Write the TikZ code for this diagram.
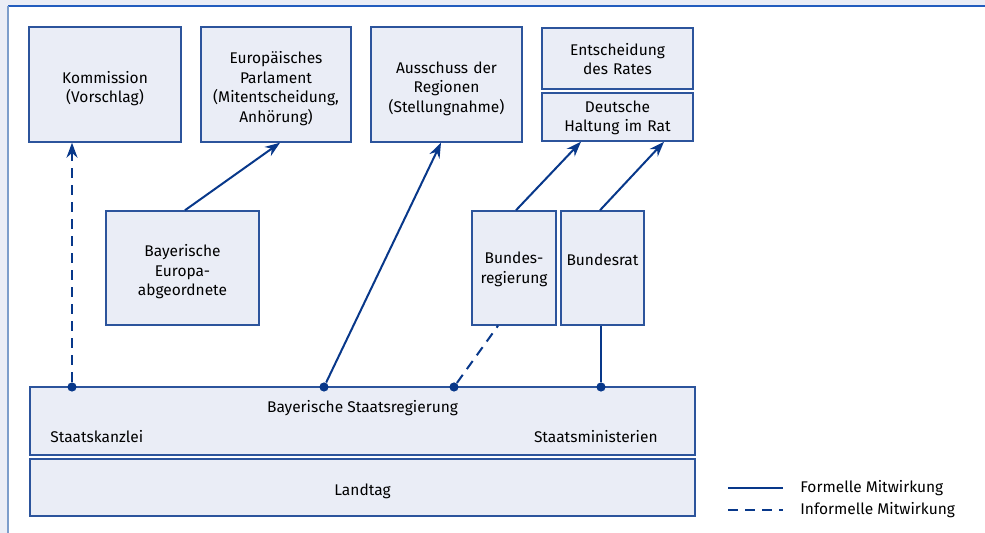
\documentclass[tikz,border=0pt]{standalone}
\usepackage{fontspec}
\setmainfont{Fira Sans}
\usetikzlibrary{arrows.meta}
\definecolor{mwnavy}{RGB}{8,56,138}
\definecolor{mwedge}{RGB}{44,84,156}
\definecolor{mwfill}{RGB}{234,237,246}
\definecolor{mwframe}{RGB}{34,92,190}
\definecolor{mwside}{RGB}{124,157,203}
\begin{document}
\begin{tikzpicture}[x=0.5pt, y=-0.5pt,
	box/.style={draw=mwedge, fill=mwfill, line width=0.75pt, inner sep=0pt, align=center, font=\fontsize{7.75}{9.8}\selectfont},
	textdrop/.style={execute at begin node={\noindent\rule{0pt}{#1}}},
	formal/.style={draw=mwnavy, line width=1pt},
	informal/.style={draw=mwnavy, line width=1pt, dash pattern=on 5pt off 3.5pt},
	tip/.style={-{Stealth[length=7.5pt, width=5.5pt]}},
	dot/.style={circle, fill=mwnavy, inner sep=0pt, minimum size=4.6pt},
	txt/.style={inner sep=0pt, font=\fontsize{7.75}{9.8}\selectfont}]
	\useasboundingbox (0,0) rectangle (985,533);
	% frame
	\fill[mwfill] (0,0) rectangle (985,533);
	\fill[white] (8,6) rectangle (985,533);
	\draw[mwframe, line width=1pt] (8,6) -- (985,6);
	\draw[mwside, line width=1pt] (8,6) -- (8,533);
	% top row
	\node (komm) at (105,84.5) [box, textdrop=10pt, text width=76pt, minimum height=57.5pt] {Kommission\\(Vorschlag)};
	\node (ep) at (276,84.5) [box, textdrop=10pt, text width=75pt, minimum height=57.5pt] {Europäisches\\Parlament\\(Mitentscheidung,\\Anhörung)};
	\node (adr) at (446.5,84.5) [box, textdrop=10pt, text width=75.5pt, minimum height=57.5pt] {Ausschuss der\\Regionen\\(Stellungnahme)};
	\node (rat) at (617.5,58.5) [box, textdrop=6.5pt, text width=75.5pt, minimum height=30.5pt] {Entscheidung\\des Rates};
	\node (dh) at (617.5,117) [box, textdrop=6.5pt, text width=75.5pt, minimum height=24pt] {Deutsche\\Haltung im Rat};
	% middle row
	\node (eab) at (182.5,268) [box, textdrop=10pt, text width=76.5pt, minimum height=57pt] {Bayerische\\Europa-\\abgeordnete};
	\node (breg) at (514,268) [box, textdrop=7pt, text width=42pt, minimum height=57pt] {Bundes-\\regierung};
	\node (brat) at (602.5,268) [box, textdrop=7pt, text width=41.5pt, minimum height=57pt] {Bundesrat\\\mbox{}};
	% bottom row
	\node (sreg) at (362.5,421) [box, text width=332.5pt, minimum height=34pt] {};
	\node (lt) at (362.5,487.5) [box, textdrop=10pt, text width=332.5pt, minimum height=28.5pt] {Landtag};
	\node (sregt) at (362.5,408) [txt] {Bayerische Staatsregierung};
	\node (sk) at (50,437) [txt, anchor=west] {Staatskanzlei};
	\node (sm) at (658,437) [txt, anchor=east] {Staatsministerien};
	% dots on the Staatsregierung
	\node (dk) at (72,387) [dot] {};
	\node (da) at (324,387) [dot] {};
	\node (db) at (454,387) [dot] {};
	\node (ds) at (601,387) [dot] {};
	% connectors
	\draw[informal, tip] (dk) -- (dk |- komm.south);
	\draw[formal, tip] ([xshift=1.25pt]eab.north) -- ([xshift=2pt]ep.south);
	\draw[formal, tip] (da) -- ([xshift=-2.75pt]adr.south);
	\draw[informal] (db) -- ([xshift=-8pt]breg.south);
	\draw[formal, tip] ([xshift=1pt]breg.north) -- ([xshift=-18.25pt]dh.south);
	\draw[formal, tip] ([xshift=-1.25pt]brat.north) -- ([xshift=23.25pt]dh.south);
	\draw[formal] (ds) -- (ds |- brat.south);
	% legend
	\coordinate (lf1) at (728,488);
	\coordinate (lf2) at (783,488);
	\coordinate (li1) at (728,510);
	\coordinate (li2) at (783,510);
	\draw[formal] (lf1) -- (lf2);
	\draw[informal] (li1) -- (li2);
	\node (lft) at (800,488) [txt, anchor=west] {Formelle Mitwirkung};
	\node (lit) at (800,510) [txt, anchor=west] {Informelle Mitwirkung};
\end{tikzpicture}
\end{document}
